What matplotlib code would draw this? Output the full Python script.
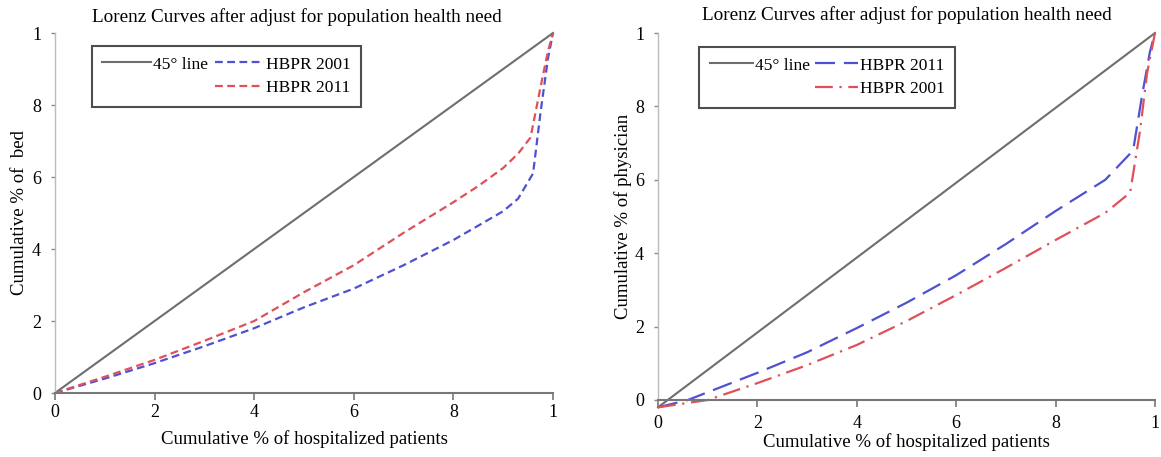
import matplotlib
matplotlib.use("Agg")
import matplotlib.pyplot as plt
from matplotlib.lines import Line2D

plt.rcParams['font.family'] = ['Liberation Serif', 'DejaVu Serif']

# ---- data ----
ticks = [0, 0.2, 0.4, 0.6, 0.8, 1.0]
tick_labels = ["0", "2", "4", "6", "8", "1"]

title = "Lorenz Curves after adjust for population health need"
xlabel = "Cumulative % of hospitalized patients"
ylabel_left = "Cumulative % of  bed"
ylabel_right = "Cumulative % of physician"

# left panel (beds)
eq_x_left = [0.0, 1.0]
eq_y_left = [0.0, 1.0]
bed2001_x = [0, 0.1, 0.2, 0.3, 0.4, 0.5, 0.6, 0.7, 0.8, 0.85, 0.9, 0.93, 0.96, 0.975, 0.99, 1.0]
bed2001_y = [0, 0.04, 0.083, 0.13, 0.18, 0.238, 0.29, 0.355, 0.425, 0.465, 0.505, 0.54, 0.61, 0.78, 0.93, 1.0]
bed2011_x = [0, 0.1, 0.2, 0.3, 0.4, 0.5, 0.6, 0.7, 0.8, 0.85, 0.9, 0.93, 0.955, 0.975, 0.99, 1.0]
bed2011_y = [0, 0.045, 0.092, 0.145, 0.2, 0.28, 0.355, 0.445, 0.53, 0.575, 0.625, 0.665, 0.71, 0.85, 0.95, 1.0]

# right panel (physicians)
eq_x_right = [0.0, 1.0]
eq_y_right = [-0.02, 1.0]
phy2011_x = [0, 0.06, 0.2, 0.3, 0.4, 0.5, 0.6, 0.7, 0.8, 0.9, 0.956, 0.974, 0.99, 1.0]
phy2011_y = [-0.02, 0, 0.074, 0.13, 0.196, 0.265, 0.34, 0.425, 0.515, 0.6, 0.68, 0.83, 0.95, 1.0]
phy2001_x = [0, 0.1, 0.2, 0.3, 0.4, 0.5, 0.6, 0.7, 0.8, 0.9, 0.95, 0.97, 0.984, 1.0]
phy2001_y = [-0.02, 0, 0.046, 0.095, 0.15, 0.215, 0.286, 0.36, 0.436, 0.51, 0.565, 0.735, 0.89, 1.0]

GRAY = "#6e6e6e"
BLUE = "#5050d2"
RED = "#e05058"
FS_TITLE = 13.8
FS_LABEL = 13.5
FS_TICK = 13
FS_LEG = 12.5

fig = plt.figure(figsize=(11.61, 4.57), dpi=100)
axL = fig.add_axes([55/1161, 1-393/457, 498/1161, 360/457])
axR = fig.add_axes([658/1161, 1-400/457, 497/1161, 367/457])


def style(ax, xpad):
    ax.set_xlim(0, 1)
    ax.set_ylim(0, 1)
    ax.set_xticks(ticks)
    ax.set_xticklabels(tick_labels, fontsize=FS_TICK)
    ax.set_yticks(ticks)
    ax.set_yticklabels(tick_labels, fontsize=FS_TICK)
    for s in ["top", "right"]:
        ax.spines[s].set_visible(False)
    ax.spines["bottom"].set_color("#777777")
    ax.spines["bottom"].set_linewidth(1.5)
    ax.spines["left"].set_color("#bbbbbb")
    ax.spines["left"].set_linewidth(1.0)
    ax.tick_params(axis="x", direction="out", length=5, width=1.2, color="#777777", pad=xpad)
    ax.tick_params(axis="y", direction="out", length=3, width=1.0, color="#888888", pad=7)


style(axL, 3)
style(axR, 6)

# left
l1, = axL.plot(eq_x_left, eq_y_left, color=GRAY, lw=1.5, clip_on=False, label="45° line")
l2, = axL.plot(bed2001_x, bed2001_y, color=BLUE, lw=1.6, dashes=(3.5, 2), clip_on=False, label="HBPR 2001")
l3, = axL.plot(bed2011_x, bed2011_y, color=RED, lw=1.6, dashes=(3.5, 2), clip_on=False, label="HBPR 2011")
axL.set_title(title, fontsize=FS_TITLE, pad=8, x=0.485)
axL.set_ylabel(ylabel_left, fontsize=FS_LABEL)
axL.yaxis.set_label_coords(-0.055, 0.5)
axL.set_xlabel(xlabel, fontsize=FS_LABEL)
axL.xaxis.set_label_coords(0.5, -0.103)
blank = Line2D([], [], lw=0, alpha=0)
legL = axL.legend([l1, blank, l2, l3], ["45° line", "", "HBPR 2001", "HBPR 2011"], ncol=2,
                  loc="upper left", bbox_to_anchor=(0.074, 0.964), borderaxespad=0,
                  fontsize=FS_LEG, frameon=True, fancybox=False, edgecolor="#222222",
                  handlelength=2.8, handletextpad=0.1, columnspacing=0.45,
                  labelspacing=0.45, borderpad=0.6)
legL.get_frame().set_linewidth(1.5)

# right
r1, = axR.plot(eq_x_right, eq_y_right, color=GRAY, lw=1.5, clip_on=False, label="45° line")
r2, = axR.plot(phy2011_x, phy2011_y, color=BLUE, lw=1.6, dashes=(9, 4), clip_on=False, label="HBPR 2011")
r3, = axR.plot(phy2001_x, phy2001_y, color=RED, lw=1.6, dashes=(8, 3, 1, 3), clip_on=False, label="HBPR 2001")
axR.set_title(title, fontsize=FS_TITLE, pad=9)
axR.set_ylabel(ylabel_right, fontsize=FS_LABEL)
axR.yaxis.set_label_coords(-0.052, 0.5)
axR.set_xlabel(xlabel, fontsize=FS_LABEL)
axR.xaxis.set_label_coords(0.5, -0.09)
legR = axR.legend([r1, blank, r2, r3], ["45° line", "", "HBPR 2011", "HBPR 2001"], ncol=2,
                  loc="upper left", bbox_to_anchor=(0.083, 0.962), borderaxespad=0,
                  fontsize=FS_LEG, frameon=True, fancybox=False, edgecolor="#222222",
                  handlelength=2.5, handletextpad=0.1, columnspacing=0.3,
                  labelspacing=0.45, borderpad=0.6)
legR.get_frame().set_linewidth(1.5)

fig.savefig("out.png", dpi=100)
